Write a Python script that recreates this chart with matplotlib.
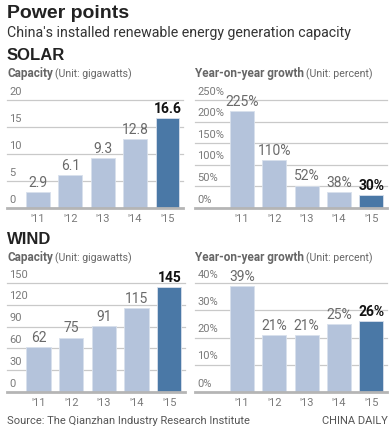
import matplotlib
matplotlib.use("Agg")
import matplotlib.pyplot as plt
import matplotlib.transforms as mtransforms

plt.rcParams["font.family"] = ["Roboto", "DejaVu Sans"]

years = ["'11", "'12", "'13", "'14", "'15"]
solar_capacity = [2.9, 6.1, 9.3, 12.8, 16.6]
solar_growth = [225, 110, 52, 38, 30]
wind_capacity = [62, 75, 91, 115, 145]
wind_growth = [39, 21, 21, 25, 26]

solar_cap_ticks = [0, 5, 10, 15, 20]
solar_growth_ticks = [0, 50, 100, 150, 200, 250]
wind_cap_ticks = [0, 30, 60, 90, 120, 150]
wind_growth_ticks = [0, 10, 20, 30, 40]

LIGHT = "#b4c3db"
DARK = "#4a78a6"
GRID = "#c9c9c9"
BASE = "#b5b5b5"
TICK = "#7a7a7a"
VAL = "#6a6a6a"

W, H = 389, 428
fig = plt.figure(figsize=(W / 100, H / 100), dpi=100)


def px_axes(x0, y0, x1, y1):
    return fig.add_axes([x0 / W, 1 - y1 / H, (x1 - x0) / W, (y1 - y0) / H])


def ftext(x, y, s, **kw):
    fig.text(x / W, 1 - y / H, s, **kw)


def panel(ax, values, ticks, suffix, left_units, fmt):
    x = list(range(len(values)))
    colors = [LIGHT] * (len(values) - 1) + [DARK]
    ax.set_xlim(-left_units, len(values) - 1 + 0.48)
    ax.set_ylim(0, ticks[-1])
    for t in ticks[1:]:
        ax.axhline(t, color=GRID, lw=0.9, clip_on=False, zorder=0)
    ax.bar(x, values, width=0.74, color=colors, edgecolor="#d8e0ec",
           linewidth=0.6, zorder=2)
    ax.axhline(0, color=BASE, lw=2, clip_on=False, zorder=3)
    trans = mtransforms.blended_transform_factory(ax.transAxes, ax.transData)
    off = mtransforms.offset_copy(trans, fig=fig, x=1, y=2.5, units="points")
    for t in ticks:
        ax.text(0.005, t, f"{t}{suffix}", transform=off, ha="left", va="bottom",
                fontsize=8, color=TICK)
    for i, v in enumerate(values):
        last = i == len(values) - 1
        ax.annotate(fmt(v), (i, v), xytext=(0, 1.5), textcoords="offset points",
                    ha="center", va="bottom", fontsize=10,
                    color="#111111" if last else VAL,
                    fontweight="bold" if last else "normal", zorder=4)
    ax.set_xticks(x)
    ax.set_xticklabels(years, fontsize=8, color=TICK)
    ax.tick_params(axis="x", length=0, pad=4)
    ax.set_yticks([])
    for s in ax.spines.values():
        s.set_visible(False)
    ax.patch.set_alpha(0)


ax1 = px_axes(7, 100, 183, 208)
panel(ax1, solar_capacity, solar_cap_ticks, "", 0.96, lambda v: f"{v:.1f}")
ax2 = px_axes(195, 100, 387, 208)
panel(ax2, solar_growth, solar_growth_ticks, "%", 1.45, lambda v: f"{v}%")
ax3 = px_axes(7, 283, 185, 392)
panel(ax3, wind_capacity, wind_cap_ticks, "", 0.96, lambda v: f"{v}")
ax4 = px_axes(195, 283, 387, 392)
panel(ax4, wind_growth, wind_growth_ticks, "%", 1.45, lambda v: f"{v}%")

ftext(7, 18, "Power points", fontsize=14, fontweight="bold", color="#222222",
      va="baseline", family=["Liberation Sans", "DejaVu Sans"])
ftext(7, 37, "China's installed renewable energy generation capacity",
      fontsize=10.2, color="#333333", va="baseline")
for y, name in [(60, "SOLAR"), (244, "WIND")]:
    ftext(7, y, name, fontsize=12, fontweight="bold", color="#222222",
          va="baseline", family=["Liberation Sans", "DejaVu Sans"])

for x, y, head, unit in [(7, 77, "Capacity", "(Unit: gigawatts)"),
                         (195, 77, "Year-on-year growth", "(Unit: percent)"),
                         (7, 261, "Capacity", "(Unit: gigawatts)"),
                         (195, 261, "Year-on-year growth", "(Unit: percent)")]:
    t = fig.text(x / W, 1 - y / H, head, fontsize=8.5, fontweight="bold",
                 color="#666666", va="baseline")
    fig.canvas.draw()
    bb = t.get_window_extent()
    fig.text(bb.x1 / W + 2.5 / W, 1 - y / H, unit, fontsize=7.6, color="#666666",
             va="baseline")

ftext(7, 424, "Source: The Qianzhan Industry Research Institute", fontsize=8,
      color="#555555", va="baseline")
ftext(388, 424, "CHINA DAILY", fontsize=8, color="#555555", va="baseline",
      ha="right")

fig.savefig("out.png", dpi=100)
